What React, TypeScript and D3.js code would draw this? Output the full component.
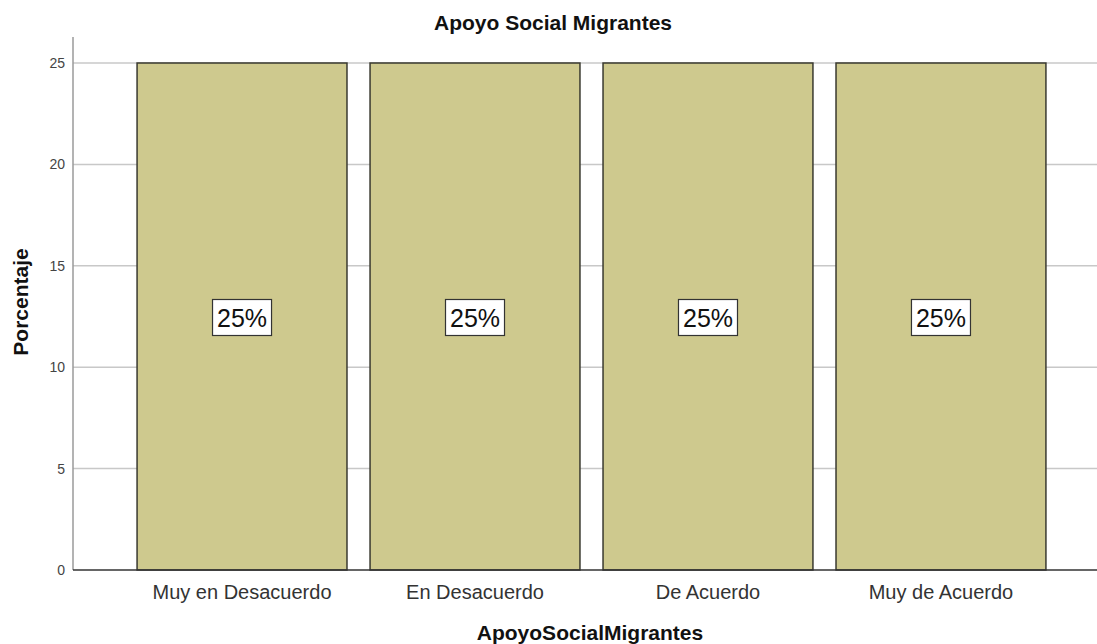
import { useEffect, useRef } from "react";
import * as d3 from "d3";

const categories = ["Muy en Desacuerdo", "En Desacuerdo", "De Acuerdo", "Muy de Acuerdo"];
const percentages = [25, 25, 25, 25];
const yTicks = [0, 5, 10, 15, 20, 25];

const W = 1097;
const H = 644;
const FONT = "'Liberation Sans', Arial, sans-serif";

const App = () => {
  const svgRef = useRef<SVGSVGElement>(null);

  useEffect(() => {
    if (!svgRef.current) return;
    const svg = d3.select(svgRef.current);
    svg.selectAll("*").remove();

    const left = 73;
    const bottom = 570;
    const top = 37;

    const x = d3
      .scaleBand<string>()
      .domain(categories)
      .range([left, 1110])
      .paddingInner(0.099)
      .paddingOuter(0.275);

    const y = d3.scaleLinear().domain([0, 25]).range([bottom, 63]);

    // grid lines
    svg
      .append("g")
      .selectAll("line")
      .data(yTicks.filter((t) => t > 0))
      .join("line")
      .attr("x1", left)
      .attr("x2", W)
      .attr("y1", (d) => y(d))
      .attr("y2", (d) => y(d))
      .attr("stroke", "#c8c8c8")
      .attr("stroke-width", 1.5);

    // y axis line
    svg
      .append("line")
      .attr("x1", left)
      .attr("x2", left)
      .attr("y1", top)
      .attr("y2", bottom)
      .attr("stroke", "#9a9a9a")
      .attr("stroke-width", 1.5);

    // y tick labels
    svg
      .append("g")
      .selectAll("text")
      .data(yTicks)
      .join("text")
      .attr("x", left - 8)
      .attr("y", (d) => y(d))
      .attr("dy", "0.35em")
      .attr("text-anchor", "end")
      .style("font-family", FONT)
      .style("font-size", "14px")
      .style("fill", "#444")
      .text((d) => d);

    // bars
    svg
      .append("g")
      .selectAll("rect")
      .data(percentages)
      .join("rect")
      .attr("x", (_, i) => x(categories[i]) || 0)
      .attr("y", (d) => y(d))
      .attr("width", x.bandwidth())
      .attr("height", (d) => bottom - y(d))
      .attr("fill", "#cec98e")
      .attr("stroke", "#3a3a30")
      .attr("stroke-width", 1.5);

    // x baseline
    svg
      .append("line")
      .attr("x1", left)
      .attr("x2", W)
      .attr("y1", bottom)
      .attr("y2", bottom)
      .attr("stroke", "#333")
      .attr("stroke-width", 1.5);

    // value labels
    const labels = svg
      .append("g")
      .selectAll("g")
      .data(percentages)
      .join("g")
      .attr(
        "transform",
        (d, i) => `translate(${(x(categories[i]) || 0) + x.bandwidth() / 2},${y(d / 2) + 1})`
      );
    labels
      .append("rect")
      .attr("x", -29.5)
      .attr("y", -18)
      .attr("width", 59)
      .attr("height", 36)
      .attr("fill", "#fff")
      .attr("stroke", "#333")
      .attr("stroke-width", 1.2);
    labels
      .append("text")
      .attr("text-anchor", "middle")
      .attr("dy", "0.36em")
      .style("font-family", FONT)
      .style("font-size", "25px")
      .style("fill", "#111")
      .text((d) => `${d}%`);

    // category labels
    svg
      .append("g")
      .selectAll("text")
      .data(categories)
      .join("text")
      .attr("x", (d) => (x(d) || 0) + x.bandwidth() / 2)
      .attr("y", 599)
      .attr("text-anchor", "middle")
      .style("font-family", FONT)
      .style("font-size", "20px")
      .style("fill", "#333")
      .text((d) => d);

    // title
    svg
      .append("text")
      .attr("x", 553)
      .attr("y", 30)
      .attr("text-anchor", "middle")
      .style("font-family", FONT)
      .style("font-size", "21px")
      .style("font-weight", "bold")
      .style("fill", "#111")
      .text("Apoyo Social Migrantes");

    // x axis title
    svg
      .append("text")
      .attr("x", 590)
      .attr("y", 640)
      .attr("text-anchor", "middle")
      .style("font-family", FONT)
      .style("font-size", "21px")
      .style("font-weight", "bold")
      .style("fill", "#111")
      .text("ApoyoSocialMigrantes");

    // y axis title
    svg
      .append("text")
      .attr("transform", `translate(28,302) rotate(-90)`)
      .attr("text-anchor", "middle")
      .style("font-family", FONT)
      .style("font-size", "21px")
      .style("font-weight", "bold")
      .style("fill", "#111")
      .text("Porcentaje");
  }, []);

  return (
    <svg
      ref={svgRef}
      width={W}
      height={H}
      style={{ position: "absolute", left: 0, top: 0, background: "#fff" }}
    />
  );
};

export default App;
